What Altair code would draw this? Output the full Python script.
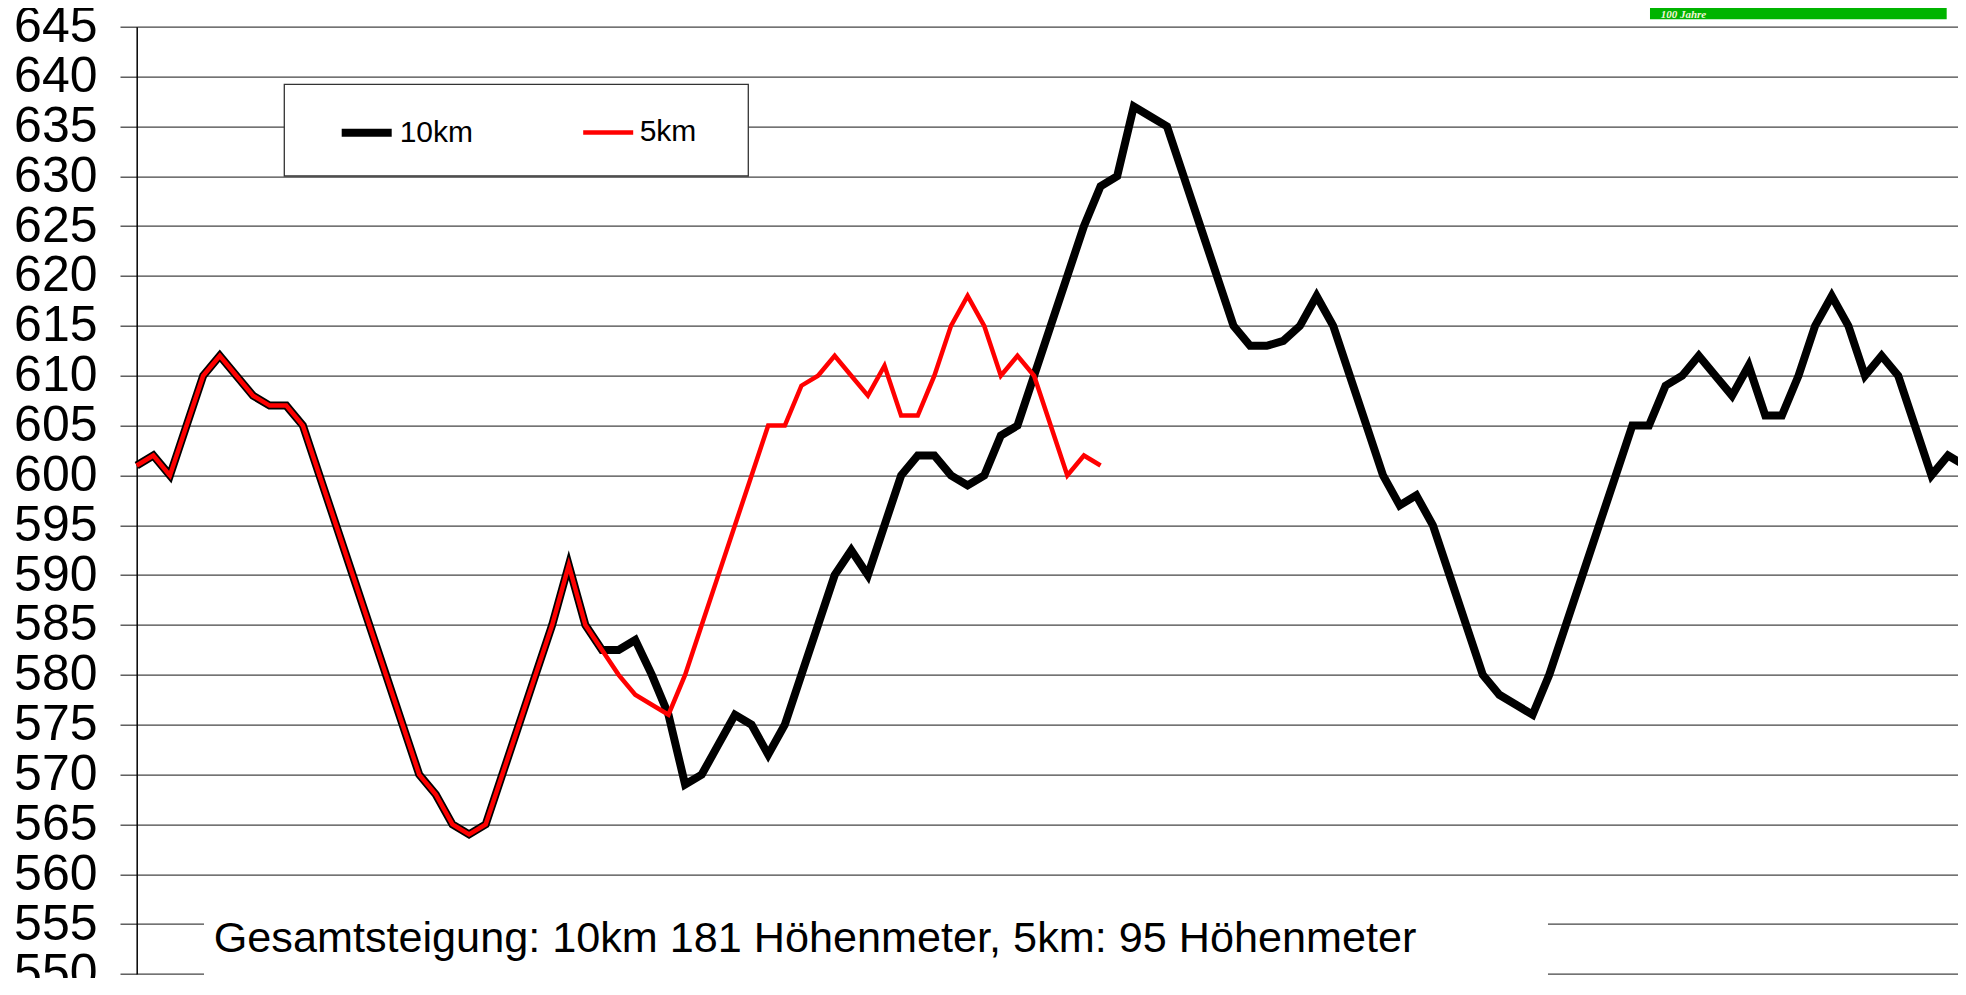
import altair as alt
import pandas as pd

# ---------------- data ----------------
SERIES = ["10km", "5km"]
COLORS = ["#000000", "#FF0000"]
LINE_WIDTHS = [8, 4.5]

ELEV_10KM = [601, 602, 600, 605, 610, 612, 610, 608, 607, 607,
             605, 600, 595, 590, 585, 580, 575, 570, 568, 565,
             564, 565, 570, 575, 580, 585, 591, 585, 582.5, 582.5,
             583.5, 580, 576, 569, 570, 573, 576, 575, 572, 575,
             580, 585, 590, 592.5, 590, 595, 600, 602, 602, 600,
             599, 600, 604, 605, 610, 615, 620, 625, 629, 630,
             637, 636, 635, 630, 625, 620, 615, 613, 613, 613.5,
             615, 618, 615, 610, 605, 600, 597, 598, 595, 590,
             585, 580, 578, 577, 576, 580, 585, 590, 595, 600,
             605, 605, 609, 610, 612, 610, 608, 611, 606, 606,
             610, 615, 618, 615, 610, 612, 610, 605, 600, 602,
             601]

ELEV_5KM = [601, 602, 600, 605, 610, 612, 610, 608, 607, 607,
            605, 600, 595, 590, 585, 580, 575, 570, 568, 565,
            564, 565, 570, 575, 580, 585, 591, 585, 582.5, 580,
            578, 577, 576, 580, 585, 590, 595, 600, 605, 605,
            609, 610, 612, 610, 608, 611, 606, 606, 610, 615,
            618, 615, 610, 612, 610, 605, 600, 602, 601]

Y_TICKS = [550, 555, 560, 565, 570, 575, 580, 585, 590, 595,
           600, 605, 610, 615, 620, 625, 630, 635, 640, 645]

NOTE = "Gesamtsteigung: 10km 181 Höhenmeter, 5km: 95 Höhenmeter"
LOGO_TEXT = "100 Jahre"

rows = []
for name, vals in zip(SERIES, [ELEV_10KM, ELEV_5KM]):
    for i, v in enumerate(vals):
        rows.append({"series": name, "pt": i, "elev": v})
df = pd.DataFrame(rows)
dummy = pd.DataFrame({"k": [0]})

FONT = "Liberation Sans"
W, H = 1828, 947.3
GRID = "#444444"

x_scale = alt.Scale(domain=[0, len(ELEV_10KM) - 1], nice=False, zero=False)
y_scale = alt.Scale(domain=[Y_TICKS[0], Y_TICKS[-1]], nice=False, zero=False)

legend = alt.Legend(
    orient="none", legendX=201, legendY=77, direction="horizontal",
    title=None, symbolType="stroke", symbolSize=2500,
    labelFontSize=30, labelFont=FONT, labelColor="black",
    labelOffset=4, columnPadding=100, padding=0, labelLimit=400,
)

lines = alt.Chart(df).mark_line().encode(
    x=alt.X("pt:Q", scale=x_scale, axis=None),
    y=alt.Y("elev:Q", scale=y_scale, axis=alt.Axis(
        values=Y_TICKS, title=None, labelFontSize=50, labelFont=FONT,
        labelColor="black", labelPadding=23, tickSize=16.7, tickColor=GRID,
        tickWidth=1.3, domainColor="black", domainWidth=1.5,
        grid=True, gridColor=GRID, gridWidth=1.3, gridOpacity=1,
        labelOverlap=False, labelFlush=False, labelBound=False)),
    color=alt.Color("series:N", scale=alt.Scale(domain=SERIES, range=COLORS), legend=legend),
    strokeWidth=alt.StrokeWidth("series:N", scale=alt.Scale(domain=SERIES, range=LINE_WIDTHS), legend=legend),
)

legend_box = alt.Chart(dummy).mark_rect(fill="white", stroke="#333333", strokeWidth=1.3).encode(
    x=alt.value(147.6), x2=alt.value(611.6), y=alt.value(57.6), y2=alt.value(149.3))

note_box = alt.Chart(dummy).mark_rect(fill="white", strokeWidth=0).encode(
    x=alt.value(67.3), x2=alt.value(1411.3), y=alt.value(862), y2=alt.value(966))

note = alt.Chart(dummy).mark_text(
    text=NOTE, align="left", baseline="alphabetic", fontSize=43.2, font=FONT, color="black"
).encode(x=alt.value(77), y=alt.value(925))

logo = alt.Chart(dummy).mark_rect(fill="#00B400", strokeWidth=0).encode(
    x=alt.value(1513.3), x2=alt.value(1810), y=alt.value(-18.7), y2=alt.value(-7.4))

logo_text = alt.Chart(dummy).mark_text(
    text=LOGO_TEXT, align="left", baseline="alphabetic", fontSize=11,
    font="Liberation Serif", fontStyle="italic", fontWeight="bold", color="#F4F4D8"
).encode(x=alt.value(1524), y=alt.value(-8.3))

chart = alt.layer(lines, legend_box, note_box, note, logo, logo_text).properties(
    width=W, height=H,
    autosize=alt.AutoSizeParams(type="none"),
    padding={"left": 128.7, "top": 18.7, "right": -7, "bottom": 4},
    background="white",
).configure_view(strokeWidth=0)

chart.save("out.html", embed_options={"renderer": "svg", "actions": False})
